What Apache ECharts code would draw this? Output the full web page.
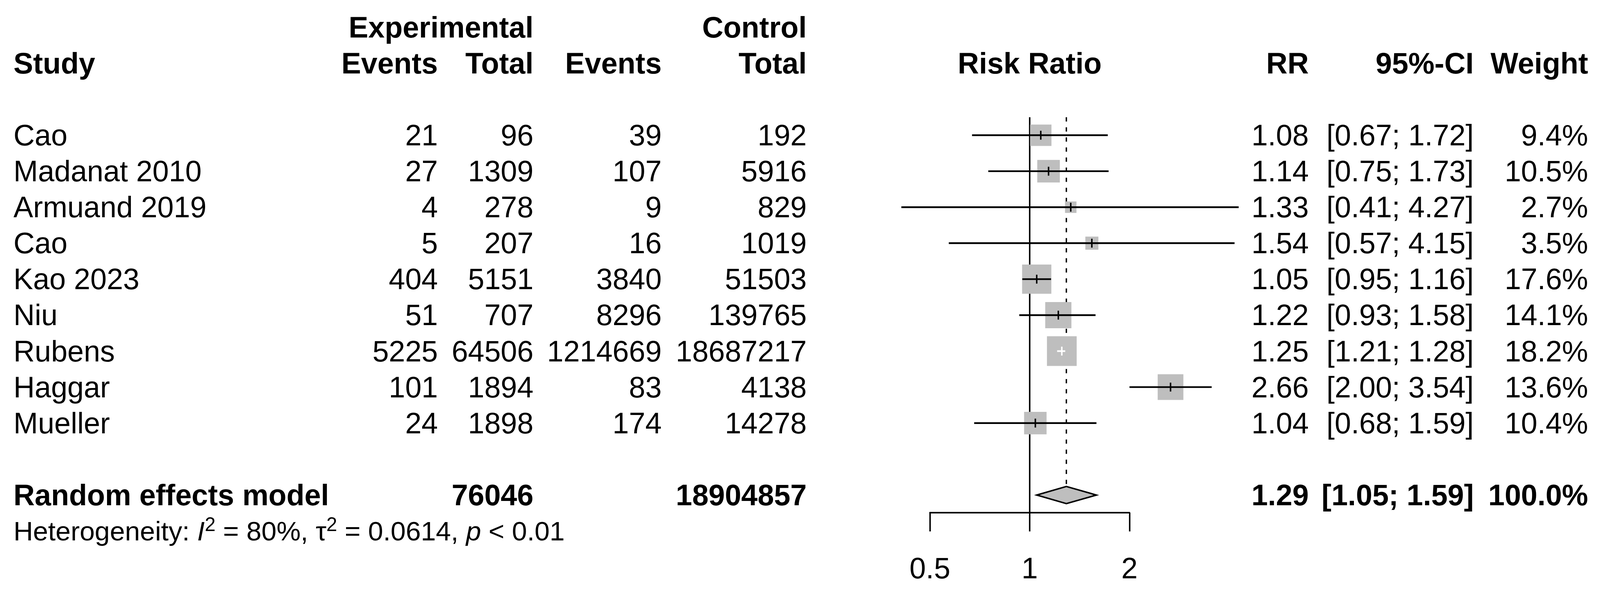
<!DOCTYPE html>
<html>
<head>
<meta charset="utf-8">
<script src="https://cdn.jsdelivr.net/npm/echarts@6/dist/echarts.min.js"></script>
<style>
html,body{margin:0;padding:0;background:#ffffff;overflow:hidden;}
#chart{width:100vw;height:100vh;}
</style>
</head>
<body>
<div id="chart"></div>
<script>
// ---------- data ----------
const studies    = ['Cao', 'Madanat 2010', 'Armuand 2019', 'Cao', 'Kao 2023', 'Niu', 'Rubens', 'Haggar', 'Mueller'];
const expEvents  = [21, 27, 4, 5, 404, 51, 5225, 101, 24];
const expTotal   = [96, 1309, 278, 207, 5151, 707, 64506, 1894, 1898];
const ctrlEvents = [39, 107, 9, 16, 3840, 8296, 1214669, 83, 174];
const ctrlTotal  = [192, 5916, 829, 1019, 51503, 139765, 18687217, 4138, 14278];
const rr         = [1.08, 1.14, 1.33, 1.54, 1.05, 1.22, 1.25, 2.66, 1.04];
const ciLow      = [0.67, 0.75, 0.41, 0.57, 0.95, 0.93, 1.21, 2.00, 0.68];
const ciHigh     = [1.72, 1.73, 4.27, 4.15, 1.16, 1.58, 1.28, 3.54, 1.59];
const weights    = [9.4, 10.5, 2.7, 3.5, 17.6, 14.1, 18.2, 13.6, 10.4];

const pooledLabel     = 'Random effects model';
const pooledExpTotal  = 76046;
const pooledCtrlTotal = 18904857;
const pooledRR        = 1.29;
const pooledLow       = 1.05;
const pooledHigh      = 1.59;
const pooledWeight    = 100.0;

const hetI2   = 80;
const hetTau2 = 0.0614;
const hetP    = '< 0.01';

const xTicks = [0.5, 1, 2];

// ---------- layout (reference pixels, scaled to the actual viewport) ----------
const REF_W = 4169, REF_H = 1515;
const el = document.getElementById('chart');
const VW = el.clientWidth || window.innerWidth || REF_W;
const VH = el.clientHeight || window.innerHeight || REF_H;
const sx = VW / REF_W, sy = VH / REF_H, s = (sx + sy) / 2;
const X = v => v * sx, Y = v => v * sy, S = v => v * s;

const FONT = 'Liberation Sans, Arial, Helvetica, sans-serif';
const FS = S(76);
const FS_HET = S(70);
const SUMMARY_ROW = 10;
const HET_ROW = 11;
const HEAD1_ROW = -3;
const HEAD2_ROW = -2;
const Y_MIN = -0.5, Y_MAX = 10.49;
const SQ_SCALE = S(18);       // px per sqrt(weight %)
const DIAMOND_HALF = Y(22);
const LW = S(4.4);
const LW_REF = S(3.8);
const COLS = {
  study:   {x: X(35),   align: 'left'},
  expEv:   {x: X(1141), align: 'right'},
  expTot:  {x: X(1390), align: 'right'},
  ctrlEv:  {x: X(1724), align: 'right'},
  ctrlTot: {x: X(2102), align: 'right'},
  plot:    {x: null,    align: 'center'},
  rr:      {x: X(3410), align: 'right'},
  ci:      {x: X(3840), align: 'right'},
  w:       {x: X(4138), align: 'right'}
};

const f2 = v => v.toFixed(2);
const ciText = (lo, hi) => '[' + f2(lo) + '; ' + f2(hi) + ']';

// ---------- table lines ----------
const tableLines = [];
tableLines.push({row: HEAD1_ROW, bold: true, cells: [['expTot', 'Experimental'], ['ctrlTot', 'Control']]});
tableLines.push({row: HEAD2_ROW, bold: true, cells: [
  ['study', 'Study'], ['expEv', 'Events'], ['expTot', 'Total'], ['ctrlEv', 'Events'], ['ctrlTot', 'Total'],
  ['plot', 'Risk Ratio'], ['rr', 'RR'], ['ci', '95%-CI'], ['w', 'Weight']]});
studies.forEach((st, i) => {
  tableLines.push({row: i, bold: false, cells: [
    ['study', st], ['expEv', String(expEvents[i])], ['expTot', String(expTotal[i])],
    ['ctrlEv', String(ctrlEvents[i])], ['ctrlTot', String(ctrlTotal[i])],
    ['rr', f2(rr[i])], ['ci', ciText(ciLow[i], ciHigh[i])], ['w', weights[i].toFixed(1) + '%']]});
});
tableLines.push({row: SUMMARY_ROW, bold: true, cells: [
  ['study', pooledLabel], ['expTot', String(pooledExpTotal)], ['ctrlTot', String(pooledCtrlTotal)],
  ['rr', f2(pooledRR)], ['ci', ciText(pooledLow, pooledHigh)], ['w', pooledWeight.toFixed(1) + '%']]});
tableLines.push({row: HET_ROW, het: true, cells: []});

// ---------- chart ----------
const chart = echarts.init(el, null, {renderer: 'svg', width: VW, height: VH});

function txt(x, y, text, align, bold) {
  return {
    type: 'text', x: x, y: y,
    style: {
      text: text, fill: '#000', fontSize: FS, fontFamily: FONT,
      fontWeight: bold ? 'bold' : 'normal',
      align: align, textAlign: align, verticalAlign: 'middle', textVerticalAlign: 'middle'
    }
  };
}

const option = {
  animation: false,
  backgroundColor: '#ffffff',
  grid: {left: X(2423), right: X(1226), top: Y(300), bottom: Y(203), containLabel: false, outerBoundsMode: 'none'},
  xAxis: {
    type: 'log', logBase: 2, min: xTicks[0], max: xTicks[xTicks.length - 1],
    axisLine: {show: true, onZero: false, lineStyle: {color: '#000', width: LW_REF}},
    axisTick: {show: true, length: Y(48), inside: false, lineStyle: {color: '#000', width: LW_REF}},
    axisLabel: {show: true, color: '#000', fontSize: FS, fontFamily: FONT, margin: Y(104),
      formatter: v => String(+(+v).toPrecision(6))},
    splitLine: {show: false},
    minorTick: {show: false}
  },
  yAxis: {type: 'value', inverse: true, min: Y_MIN, max: Y_MAX, show: false},
  series: [
    // reference lines: null effect (solid) and pooled estimate (dashed)
    {
      type: 'custom', clip: false, z: 1,
      data: [[1, 0], [pooledRR, 1]],
      encode: {x: 0, y: -1},
      renderItem: function (params, api) {
        const kind = api.value(1);
        const x = api.coord([api.value(0), 0])[0];
        const yTop = api.coord([1, Y_MIN])[1];
        const yBot = kind === 0 ? api.coord([1, Y_MAX])[1]
                                : api.coord([1, SUMMARY_ROW])[1] - DIAMOND_HALF;
        return {
          type: 'line',
          shape: {x1: x, y1: yTop, x2: x, y2: yBot},
          style: {stroke: '#000', lineWidth: kind === 0 ? LW_REF : S(3.5),
                  lineDash: kind === 0 ? null : [S(11), S(15)]}
        };
      }
    },
    // study squares and CIs
    {
      type: 'custom', clip: false, z: 2,
      data: studies.map((st, i) => [rr[i], i, ciLow[i], ciHigh[i], weights[i]]),
      encode: {x: [0, 2, 3], y: 1},
      renderItem: function (params, api) {
        const row = api.value(1);
        const c = api.coord([api.value(0), row]);
        const lo = api.coord([api.value(2), row])[0];
        const hi = api.coord([api.value(3), row])[0];
        const size = SQ_SCALE * Math.sqrt(api.value(4));
        const inside = (hi - lo) < size * 0.8;
        const col = inside ? '#ffffff' : '#000000';
        const tick = S(11.5);
        return {
          type: 'group',
          children: [
            {type: 'rect', shape: {x: c[0] - size / 2, y: c[1] - size / 2, width: size, height: size},
             style: {fill: '#bebebe'}},
            {type: 'line', shape: {x1: lo, y1: c[1], x2: hi, y2: c[1]},
             style: {stroke: col, lineWidth: LW}},
            {type: 'line', shape: {x1: c[0], y1: c[1] - tick, x2: c[0], y2: c[1] + tick},
             style: {stroke: col, lineWidth: LW_REF}}
          ]
        };
      }
    },
    // pooled diamond
    {
      type: 'custom', clip: false, z: 3,
      data: [[pooledRR, SUMMARY_ROW, pooledLow, pooledHigh]],
      encode: {x: [0, 2, 3], y: 1},
      renderItem: function (params, api) {
        const row = api.value(1);
        const c = api.coord([api.value(0), row]);
        const lo = api.coord([api.value(2), row])[0];
        const hi = api.coord([api.value(3), row])[0];
        return {
          type: 'polygon',
          shape: {points: [[lo, c[1]], [c[0], c[1] - DIAMOND_HALF], [hi, c[1]], [c[0], c[1] + DIAMOND_HALF]]},
          style: {fill: '#bebebe', stroke: '#000', lineWidth: LW_REF}
        };
      }
    },
    // table text
    {
      type: 'custom', clip: false, z: 4,
      data: tableLines.map(l => [1, l.row]),
      encode: {x: 0, y: 1},
      renderItem: function (params, api) {
        const line = tableLines[params.dataIndex];
        const y = api.coord([1, line.row])[1];
        if (line.het) {
          return {
            type: 'text', x: COLS.study.x, y: y,
            style: {
              text: 'Heterogeneity: {i|I}{s|2} = ' + hetI2 + '%, τ{s|2} = ' + hetTau2 + ', {i|p} ' + hetP,
              fill: '#000', fontSize: FS_HET, fontFamily: FONT, lineHeight: S(84),
              align: 'left', textAlign: 'left', verticalAlign: 'middle', textVerticalAlign: 'middle',
              rich: {
                i: {fontStyle: 'italic', fontSize: FS_HET, fontFamily: FONT, fill: '#000', lineHeight: S(84)},
                s: {fontSize: S(50), fontFamily: FONT, fill: '#000', lineHeight: S(36), verticalAlign: 'top'}
              }
            }
          };
        }
        const plotX = (api.coord([xTicks[0], 0])[0] + api.coord([xTicks[xTicks.length - 1], 0])[0]) / 2;
        return {
          type: 'group',
          children: line.cells.map(cell => {
            const col = COLS[cell[0]];
            const x = col.x === null ? plotX : col.x;
            return txt(x, y, cell[1], col.align, line.bold);
          })
        };
      }
    }
  ]
};
chart.setOption(option);
</script>
</body>
</html>
